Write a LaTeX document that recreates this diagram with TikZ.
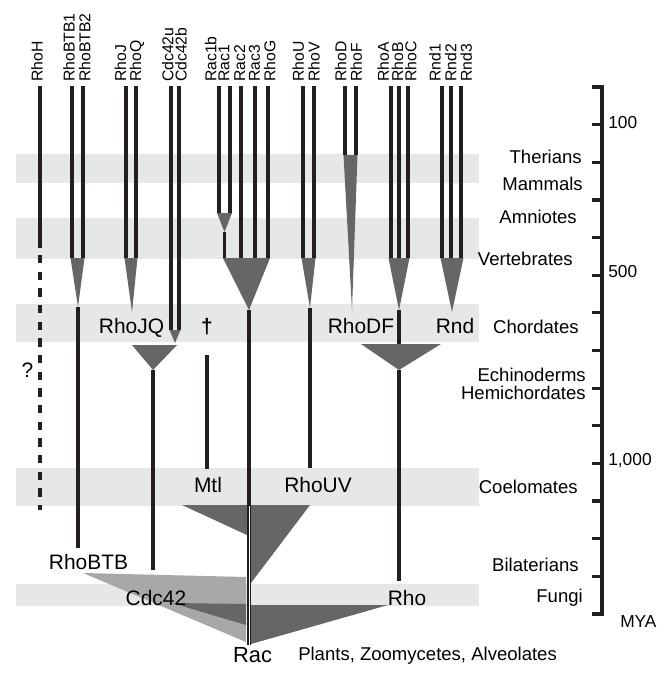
\documentclass[tikz,border=0pt]{standalone}
\usepackage{fontspec}
\setmainfont{Liberation Sans}
\usetikzlibrary{positioning}
\definecolor{rhoink}{HTML}{231F20}
\definecolor{rhodark}{HTML}{666666}
\definecolor{rholight}{HTML}{A8A8A8}
\definecolor{rhoband}{HTML}{E6E7E7}
\begin{document}
\begin{tikzpicture}[x=0.75pt,y=-0.75pt,
 branch/.style={draw=rhoink,line width=2.4pt},
 tri/.style={fill=rhodark},
 band/.style={fill=rhoband},
 gene/.style={rotate=90,anchor=west,inner sep=0pt,font=\fontsize{11.8pt}{12pt}\selectfont},
 clade/.style={anchor=base,inner sep=0pt,font=\fontsize{15.7pt}{16pt}\selectfont},
 taxon/.style={anchor=base east,inner sep=0pt,font=\fontsize{13.9pt}{14pt}\selectfont},
 mya/.style={anchor=base west,inner sep=0pt,font=\fontsize{13pt}{14pt}\selectfont}]
\useasboundingbox (0,0) rectangle (672,690);
\foreach \ya/\yb in {154/183,218/259,304/342,468/506,584/606}
  \fill[band](16,\ya) rectangle (479,\yb);
% early splits
\fill[rholight](83,573)--(246,577)--(246,642)--cycle;
\fill[tri](172,603)--(246,604)--(246,625)--cycle;
\fill[tri](182,505)--(247,505)--(247,535)--cycle;
\fill[tri](251,505)--(310,505)--(251,583)--cycle;
\fill[tri](251,605)--(388,605)--(251,644)--cycle;
% vertebrate duplications
\coordinate (btb) at (78,307);
\coordinate (jq) at (132,312);
\coordinate (cdcu) at (175,343);
\coordinate (cdc) at (153,370);
\coordinate (racb) at (224.5,232);
\coordinate (rac) at (249,310);
\coordinate (uv) at (310,308);
\coordinate (df) at (352,310);
\coordinate (abc) at (399,310);
\coordinate (rho) at (399,370);
\coordinate (rnd) at (452,312);
\fill[tri](70.5,258)--(84.5,258)--(btb)--cycle;
\fill[tri](124.5,258)--(137.5,258)--(jq)--cycle;
\fill[tri](169.5,330)--(180.5,330)--(cdcu)--cycle;
\fill[tri](132,345)--(177,345)--(cdc)--cycle;
\fill[tri](217,213)--(232,213)--(racb)--cycle;
\fill[tri](223,258)--(270,258)--(rac)--cycle;
\fill[tri](301.5,258)--(315.5,258)--(uv)--cycle;
\fill[tri](343.5,155)--(357.5,155)--(df)--cycle;
\fill[tri](388.5,258)--(409.5,258)--(abc)--cycle;
\fill[tri](361,344)--(441,344)--(rho)--cycle;
\fill[tri](440.5,258)--(463.5,258)--(rnd)--cycle;
\foreach \lx/\tx/\yb/\name in {40/37/248/RhoH,72/69/258/RhoBTB1,83/84.7/258/RhoBTB2,
  126/120.5/258/RhoJ,136/137/258/RhoQ,171/167.8/330/Cdc42u,179/181/330/Cdc42b,
  219/210.8/213/Rac1b,230/224/213/Rac1,241/239.7/258/Rac2,255/254.4/258/Rac3,268/269.7/258/RhoG,
  303/298.3/258/RhoU,314/314/258/RhoV,345/340.7/155/RhoD,356/356.3/155/RhoF,
  391/383.3/258/RhoA,399/397.5/258/RhoB,408/410.8/258/RhoC,442/435/258/Rnd1,451/450.7/258/Rnd2,461/466.3/258/Rnd3}{
  \draw[branch](\lx,86)--(\lx,\yb);
  \node[gene](\name) at (\tx,82){\name};}
\draw[branch,dash pattern=on 6.25pt off 6.25pt](40,255)--(40,510);
\draw[branch](btb)--(78,548);
\draw[branch](cdc)--(153,570);
\draw[branch](racb)--(224.5,258);
\draw[branch](rac)--(249,506);
\draw[rhoink,line width=1.3pt,double=white,double distance=0.7pt](249,506)--(249,645);
\draw[branch](uv)--(310,468);
\draw[branch](abc)--(399,344);
\draw[branch](rho)--(399,581);
\draw[branch](207,355)--(207,469);
% clade names
\node[clade](qm) at (27.5,377){?};
\node[clade](btbl) at (88.5,569){RhoBTB};
\node[clade](jql) at (131.5,333){RhoJQ};
\node[clade](dag) at (207,333){\textbf{†}};
\node[clade](dfl) at (361,333){RhoDF};
\node[clade](rndl) at (455,333){Rnd};
\node[clade](mtl) at (208,492){Mtl};
\node[clade](uvl) at (318,492){RhoUV};
\node[clade](cdcl) at (156,605){Cdc42};
\node[clade](rhol) at (407,605){Rho};
\node[clade,font=\fontsize{16.4pt}{17pt}\selectfont](racl) at (252.5,662){Rac};
\node[taxon,anchor=base west](plants) at (298,660){Plants, Zoomycetes, Alveolates};
% taxa and time axis
\node[taxon](ther) at (582,163){Therians};
\node[taxon](mamm) at (583,190){Mammals};
\node[taxon](amni) at (577,223){Amniotes};
\node[taxon](vert) at (573,265){Vertebrates};
\node[taxon](chor) at (579,333){Chordates};
\node[taxon](echi) at (586,381){Echinoderms};
\node[taxon](hemi) at (586,399){Hemichordates};
\node[taxon](coel) at (578,493){Coelomates};
\node[taxon](bila) at (579,571){Bilaterians};
\node[taxon](fung) at (583,602){Fungi};
\draw[branch](592,87)--(602,87)--(602,614)--(592,614);
\foreach \i in {1,...,13}\draw[branch](592,{87+37.64*\i})--(602,{87+37.64*\i});
\node[mya](t100) at (608,128){100};
\node[mya](t500) at (608,277){500};
\node[mya](t1000) at (608,465){1,000};
\node[mya](myal) at (620,627){MYA};
\end{tikzpicture}
\end{document}
